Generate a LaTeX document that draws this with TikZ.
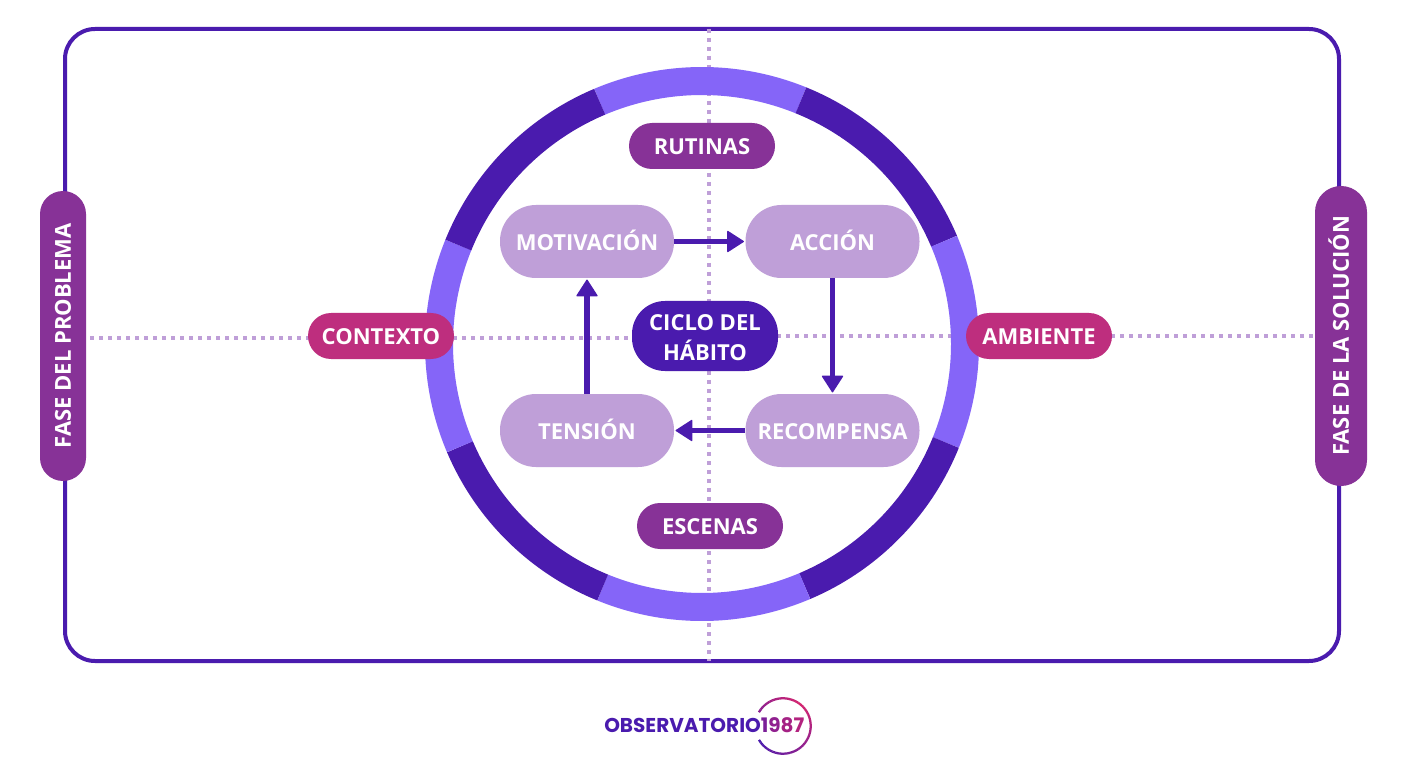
\documentclass[tikz,border=0pt]{standalone}
\usepackage{fontspec}
\setmainfont{Open Sans}
\newfontfamily\logofont{Poppins}
\usetikzlibrary{arrows.meta,backgrounds,calc}
\definecolor{deep}{HTML}{4A1BAE}
\definecolor{violetlt}{HTML}{8565F8}
\definecolor{plum}{HTML}{873297}
\definecolor{rose}{HTML}{BE2E7E}
\definecolor{lilac}{HTML}{BF9FD8}
\definecolor{logomag}{HTML}{D6266F}
\tikzset{
  pill/.style={rectangle,draw=none,fill=#1,text=white,font=\bfseries\fontsize{16.5}{20}\selectfont,inner sep=0pt,align=center},
  capline/.style={text height=13.3pt,text depth=0pt},
  sized/.style n args={3}{minimum width=#1*0.75pt,minimum height=#2*0.75pt,rounded corners=#3*0.75pt},
  tag/.style={pill=plum,capline,sized={146}{46}{23}},
  ctx/.style={pill=rose,capline,sized={146}{46}{23}},
  stepbox/.style={pill=lilac,capline,sized={174}{73}{36}},
  fase/.style={pill=plum,text height=11.8pt,text depth=0pt,rotate=90,font=\bfseries\fontsize{16.5}{20}\selectfont},
  dotline/.style={draw=lilac,line width=3pt,dash pattern=on 3.2pt off 3.55pt},
  flow/.style={draw=deep,line width=3.8pt,-{Triangle[round,length=13pt,width=16.5pt,line width=1pt]},shorten >=1pt},
  ringdark/.style={draw=deep,line width=21pt},
  ringlight/.style={draw=violetlt,line width=21pt}
}
\begin{document}
\begin{tikzpicture}[x=0.75pt,y=-0.75pt]
\useasboundingbox (0,0) rectangle (1410,784);

\node[fase,sized={290}{46}{23}] (fp) at (63,336) {FASE DEL PROBLEMA};
\node[fase,sized={300}{52}{26}] (fs) at (1341,336) {FASE DE LA SOLUCIÓN};

\node[tag] (rut) at (702,146) {RUTINAS};
\node[tag] (esc) at (710,526) {ESCENAS};
\node[ctx] (con) at (381,336) {CONTEXTO};
\node[ctx] (amb) at (1039,336) {AMBIENTE};
\node[pill=deep,sized={146}{70}{33},font=\bfseries\fontsize{16.5}{22.5}\selectfont] (cic) at (705,336) {\rule{0pt}{14.5pt}CICLO DEL\\HÁBITO};
\node[stepbox] (mot) at (587,241.5) {MOTIVACIÓN};
\node[stepbox] (acc) at (832.5,241.5) {ACCIÓN};
\node[stepbox] (rec) at (832.5,430.5) {RECOMPENSA};
\node[stepbox] (ten) at (587,430.5) {TENSIÓN};

\coordinate (topc) at (709,29);
\coordinate (botc) at (709,661);
\coordinate (ringc) at (702,344);

\begin{pgfonlayer}{background}
  \fill[white] (0,0) rectangle (1410,784);
  \draw[deep,line width=3pt,rounded corners=22.5pt] (65,29) rectangle (1339,661);
  \draw[dotline] (topc) -- (botc);
  \draw[dotline] ([yshift=-1.5pt]fp.center) -- ([yshift=-1.5pt]con.center);
  \draw[dotline] ([yshift=-1.5pt]con.center) -- ([yshift=-1.5pt]cic.center);
  \draw[dotline] (cic.center) -- (amb.center);
  \draw[dotline] (amb.center) -- (fs.center);
  % ring
  \foreach \a/\b/\s in {112.9/67.9/ringlight,67.9/23/ringdark,23/-22/ringlight,-22/-67/ringdark,-67/-112.2/ringlight,-112.2/-157/ringdark,-157/-202.1/ringlight,-202.1/-247.1/ringdark}{
    \draw[\s] (ringc) ++(\a:197.25pt) arc[start angle=\a,end angle=\b,radius=197.25pt];
  }
\end{pgfonlayer}

\draw[flow] (mot) -- (acc);
\draw[flow] (acc) -- (rec);
\draw[flow] (rec) -- (ten);
\draw[flow] (ten) -- (mot);

% logo
\coordinate (lc) at (783,726);
\foreach \i in {0,...,47}{
  \pgfmathsetmacro{\st}{-150+\i*6.25}
  \pgfmathsetmacro{\mx}{\i<32 ? 100-\i*3.1 : 0.8+(\i-32)*3.5}
  \colorlet{segc}{deep!\mx!logomag}
  \draw[segc,line width=1.7pt] (lc) ++(\st:20.8pt) arc[start angle=\st,end angle=\st+6.5,radius=20.8pt];
}
\node[anchor=west,inner sep=0pt,font=\logofont\bfseries\fontsize{15}{18}\selectfont] (logo) at (604,725.5)
  {\textcolor{deep}{OBSERVATORIO}\textcolor{deep!65!logomag}{1}\textcolor{deep!50!logomag}{9}\textcolor{deep!35!logomag}{8}\textcolor{deep!25!logomag}{7}};
\end{tikzpicture}
\end{document}
